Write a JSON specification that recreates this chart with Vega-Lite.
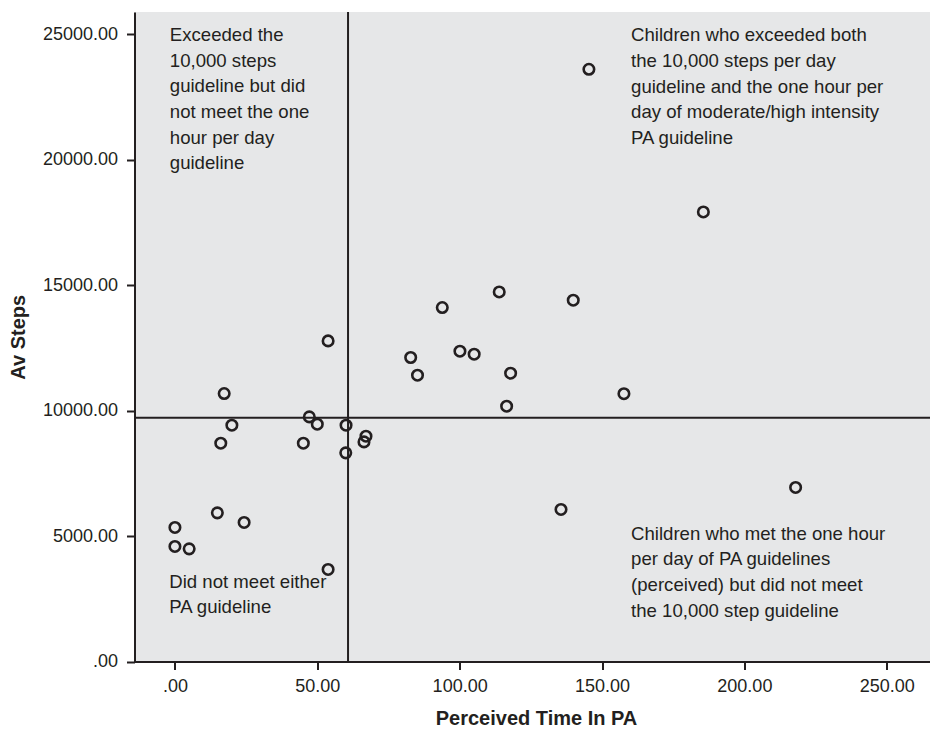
{
  "$schema": "https://vega.github.io/schema/vega-lite/v6.json",
  "width": 795.5,
  "height": 649.6,
  "autosize": {"type": "none"},
  "padding": {"left": 134.5, "top": 12, "right": 0, "bottom": 68.4},
  "background": "white",
  "config": {
    "view": {"fill": "#e6e7e8", "stroke": null},
    "font": "Liberation Sans",
    "axis": {
      "grid": false,
      "domainColor": "#231f20",
      "domainWidth": 2,
      "tickColor": "#231f20",
      "tickWidth": 2,
      "tickSize": 8,
      "labelColor": "#231f20",
      "labelFont": "Liberation Sans",
      "labelFontSize": 18,
      "titleColor": "#231f20",
      "titleFont": "Liberation Sans",
      "titleFontSize": 20,
      "titleFontWeight": "bold"
    }
  },
  "datasets": {
    "children": [
      {"time": 145.4, "steps": 23606},
      {"time": 185.6, "steps": 17920},
      {"time": 93.9, "steps": 14112},
      {"time": 113.9, "steps": 14733},
      {"time": 139.9, "steps": 14402},
      {"time": 53.8, "steps": 12781},
      {"time": 82.8, "steps": 12120},
      {"time": 100.1, "steps": 12371},
      {"time": 105.1, "steps": 12251},
      {"time": 85.2, "steps": 11414},
      {"time": 117.9, "steps": 11494},
      {"time": 17.3, "steps": 10685},
      {"time": 157.7, "steps": 10677},
      {"time": 116.5, "steps": 10179},
      {"time": 47.2, "steps": 9753},
      {"time": 20.0, "steps": 9422},
      {"time": 50.0, "steps": 9462},
      {"time": 60.1, "steps": 9422},
      {"time": 16.1, "steps": 8705},
      {"time": 45.1, "steps": 8705},
      {"time": 67.1, "steps": 8984},
      {"time": 66.4, "steps": 8757},
      {"time": 60.0, "steps": 8319},
      {"time": 218.0, "steps": 6940},
      {"time": 135.6, "steps": 6064},
      {"time": 14.9, "steps": 5928},
      {"time": 24.3, "steps": 5546},
      {"time": 0.0, "steps": 5347},
      {"time": 0.0, "steps": 4590},
      {"time": 5.0, "steps": 4494},
      {"time": 53.8, "steps": 3673}
    ],
    "notes": [
      {"time": -1.8, "steps": 24740, "label": "Exceeded the\n10,000 steps\nguideline but did\nnot meet the one\nhour per day\nguideline"},
      {"time": 160.2, "steps": 24720, "label": "Children who exceeded both\nthe 10,000 steps per day\nguideline and the one hour per\nday of moderate/high intensity\nPA guideline"},
      {"time": 160.2, "steps": 4866, "label": "Children who met the one hour\nper day of PA guidelines\n(perceived) but did not meet\nthe 10,000 step guideline"},
      {"time": -2.0, "steps": 2953, "label": "Did not meet either\nPA guideline"}
    ]
  },
  "layer": [
    {
      "data": {"values": [{"v": 60.8}]},
      "mark": {"type": "rule", "color": "#231f20", "strokeWidth": 2},
      "encoding": {"x": {"field": "v", "type": "quantitative"}}
    },
    {
      "data": {"values": [{"v": 9720}]},
      "mark": {"type": "rule", "color": "#231f20", "strokeWidth": 2},
      "encoding": {"y": {"field": "v", "type": "quantitative"}}
    },
    {
      "data": {"name": "notes"},
      "mark": {"type": "text", "align": "left", "baseline": "alphabetic", "fontSize": 18.6, "lineHeight": 25.7, "lineBreak": "\n", "color": "#231f20", "font": "Liberation Sans"},
      "encoding": {
        "x": {"field": "time", "type": "quantitative"},
        "y": {"field": "steps", "type": "quantitative"},
        "text": {"field": "label"}
      }
    },
    {
      "data": {"name": "children"},
      "mark": {"type": "point", "shape": "circle", "filled": false, "size": 110, "strokeWidth": 2.6, "color": "#231f20", "opacity": 1},
      "encoding": {
        "x": {
          "field": "time", "type": "quantitative",
          "scale": {"domain": [-14.2, 265.2], "nice": false, "zero": false},
          "axis": {
            "values": [0, 50, 100, 150, 200, 250],
            "labelExpr": "datum.value == 0 ? '.00' : format(datum.value, '.2f')",
            "labelPadding": 8,
            "title": "Perceived Time In PA",
            "titleX": 401.5,
            "titleY": 56.4,
            "titleBaseline": "middle"
          }
        },
        "y": {
          "field": "steps", "type": "quantitative",
          "scale": {"domain": [0, 25890], "nice": false, "zero": false},
          "axis": {
            "values": [0, 5000, 10000, 15000, 20000, 25000],
            "labelExpr": "datum.value == 0 ? '.00' : format(datum.value, '.2f')",
            "labelPadding": 9,
            "title": "Av Steps",
            "titleX": -116.5,
            "titleBaseline": "middle"
          }
        }
      }
    }
  ]
}
